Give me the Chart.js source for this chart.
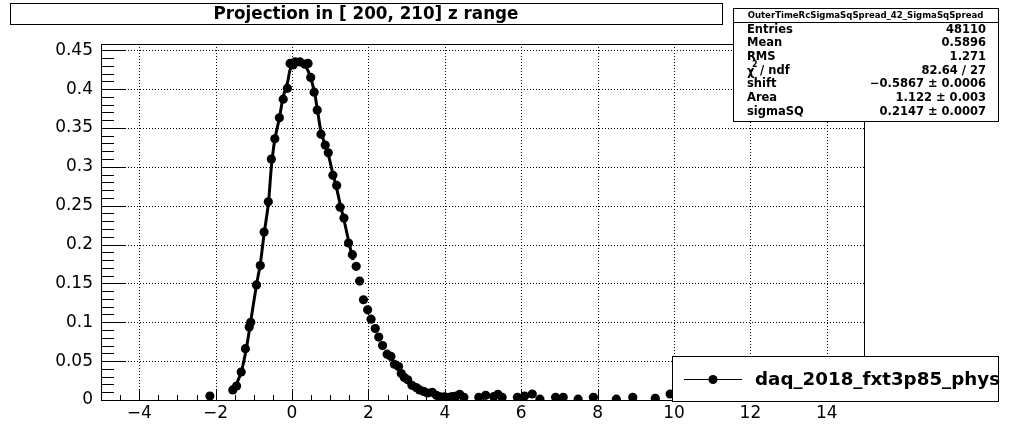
<!DOCTYPE html>
<html>
<head>
<meta charset="utf-8">
<script src="https://cdn.jsdelivr.net/npm/chart.js@4.4.1/dist/chart.umd.min.js"></script>
<style>
  html, body { margin: 0; padding: 0; background: #fff; }
  #wrap { width: 1019px; height: 446px; }
</style>
</head>
<body>
<div id="wrap"><canvas id="chart" width="1019" height="446"></canvas></div>
<script>
// valeurs (centre des bins)
const binX = [-2.15, -1.55, -1.45, -1.33, -1.22, -1.12, -1.08, -0.93, -0.83, -0.73, -0.62, -0.54, -0.45, -0.33, -0.23, -0.12,
  -0.05, 0.03, 0.08, 0.21, 0.34, 0.42, 0.49, 0.58, 0.66, 0.76, 0.87, 0.95, 1.07, 1.17, 1.26, 1.36, 1.48, 1.58, 1.68, 1.77,
  1.87, 1.98, 2.07, 2.18, 2.27, 2.37, 2.49, 2.59, 2.68, 2.79, 2.86, 2.94, 3.03, 3.14, 3.25, 3.34, 3.45, 3.55, 3.67, 3.78,
  3.88, 3.99, 4.10, 4.19, 4.30, 4.39, 4.50, 4.89, 5.07, 5.28, 5.39, 5.50, 5.90, 6.09, 6.29, 6.49, 6.90, 7.10, 7.49, 7.89,
  8.49, 8.92, 9.51, 9.90, 10.49];
const binY = [0.005, 0.013, 0.018, 0.036, 0.066, 0.094, 0.100, 0.148, 0.173, 0.216, 0.255, 0.310, 0.336, 0.363, 0.387, 0.401,
  0.433, 0.431, 0.435, 0.435, 0.432, 0.433, 0.415, 0.396, 0.373, 0.342, 0.328, 0.318, 0.289, 0.276, 0.248, 0.234, 0.202, 0.187, 0.172, 0.153,
  0.129, 0.116, 0.104, 0.092, 0.081, 0.070, 0.059, 0.056, 0.046, 0.043, 0.034, 0.029, 0.026, 0.019, 0.016, 0.013, 0.011, 0.009, 0.010, 0.006,
  0.004, 0.004, 0.0035, 0.0043, 0.005, 0.0073, 0.0035, 0.0035, 0.006, 0.0043, 0.0073, 0.0035, 0.0035, 0.005, 0.0077, 0.001, 0.0035, 0.0035, 0.001, 0.0035,
  0.001, 0.0035, 0.0022, 0.0077, 0.001];

// courbe d'ajustement, lue le long du trait
const fitX = [-1.50, -1.33, -1.20, -1.10, -0.93, -0.83, -0.73, -0.62, -0.54, -0.45, -0.33, -0.23, -0.11, -0.05, 0.05, 0.15,
  0.25, 0.35, 0.45, 0.58, 0.66, 0.76, 0.87, 0.95, 1.07, 1.17, 1.26, 1.36, 1.48, 1.60];
const fitY = [0.015, 0.036, 0.065, 0.095, 0.148, 0.175, 0.214, 0.252, 0.300, 0.335, 0.363, 0.390, 0.410, 0.425, 0.433, 0.435,
  0.434, 0.430, 0.420, 0.398, 0.375, 0.345, 0.328, 0.316, 0.291, 0.272, 0.252, 0.232, 0.205, 0.180];

const xTicks = [-4, -2, 0, 2, 4, 6, 8, 10, 12, 14];
const xTickLabels = ['\u22124', '\u22122', '0', '2', '4', '6', '8', '10', '12', '14'];
const yTicks = [0, 0.05, 0.1, 0.15, 0.2, 0.25, 0.3, 0.35, 0.4, 0.45];
const yTickLabels = ['0', '0.05', '0.1', '0.15', '0.2', '0.25', '0.3', '0.35', '0.4', '0.45'];

const titleText = 'Projection in [ 200, 210] z range';
const statsTitle = 'OuterTimeRcSigmaSqSpread_42_SigmaSqSpread';
const statsNames = ['Entries', 'Mean', 'RMS', 'chi2', 'shift', 'Area', 'sigmaSQ'];
const statsValues = ['48110', '0.5896', '1.271', '82.64 / 27', '\u22120.5867 \u00b1 0.0006', '1.122 \u00b1 0.003', '0.2147 \u00b1 0.0007'];
const legendLabel = 'daq_2018_fxt3p85_phys';

const FONT = '"DejaVu Sans", sans-serif';

// texte ajusté à une largeur donnée
function fitFont(ctx, text, weight, size, width) {
  ctx.font = weight + ' ' + size + 'px ' + FONT;
  const w = ctx.measureText(text).width;
  return size * width / w;
}

// cadre, grille pointillée, graduations et boîtes façon ROOT
const rootPlugin = {
  id: 'rootStyle',
  beforeDatasetsDraw(chart) {
    const { ctx, chartArea: a, scales } = chart;
    ctx.save();
    ctx.strokeStyle = '#000';
    ctx.lineWidth = 1;
    ctx.setLineDash([1, 2]);
    xTicks.forEach(v => {
      const x = Math.round(scales.x.getPixelForValue(v)) + 0.5;
      ctx.beginPath(); ctx.moveTo(x, a.top); ctx.lineTo(x, a.bottom); ctx.stroke();
    });
    yTicks.forEach(v => {
      if (v === 0) return;
      const y = Math.round(scales.y.getPixelForValue(v)) + 0.5;
      ctx.beginPath(); ctx.moveTo(a.left, y); ctx.lineTo(a.right, y); ctx.stroke();
    });
    ctx.restore();
  },
  afterDatasetsDraw(chart) {
    const { ctx, chartArea: a, scales } = chart;
    ctx.save();
    ctx.strokeStyle = '#000';
    ctx.lineWidth = 1;
    ctx.setLineDash([]);
    ctx.strokeRect(a.left + 0.5, a.top + 0.5, a.right - a.left - 1, a.bottom - a.top);

    // graduations y
    for (let i = 0; i <= 45; i++) {
      const v = i / 100;
      const y = Math.round(scales.y.getPixelForValue(v)) + 0.5;
      const len = i % 5 === 0 ? 25 : 13;
      ctx.beginPath(); ctx.moveTo(a.left, y); ctx.lineTo(a.left + len, y); ctx.stroke();
    }
    // graduations x
    for (let i = -10; i <= 30; i++) {
      const v = i / 2;
      const x = Math.round(scales.x.getPixelForValue(v)) + 0.5;
      const len = i % 4 === 0 ? 10 : 5;
      ctx.beginPath(); ctx.moveTo(x, a.bottom); ctx.lineTo(x, a.bottom - len); ctx.stroke();
    }

    // titre
    ctx.fillStyle = '#fff';
    ctx.fillRect(10, 3, 712, 21);
    ctx.strokeRect(10.5, 3.5, 712, 21);
    ctx.fillStyle = '#000';
    const tt = fitFont(ctx, titleText, 'bold', 15, 305);
    ctx.font = 'bold ' + tt.toFixed(2) + 'px ' + FONT;
    ctx.textAlign = 'center';
    ctx.textBaseline = 'middle';
    ctx.fillText(titleText, 366, 14.5);

    // boîte de statistiques
    const sx = 733, sy = 8, sw = 265, sh = 113;
    ctx.fillStyle = '#fff';
    ctx.fillRect(sx, sy, sw, sh);
    ctx.strokeRect(sx + 0.5, sy + 0.5, sw, sh);
    ctx.beginPath(); ctx.moveTo(sx, 22.5); ctx.lineTo(sx + sw, 22.5); ctx.stroke();
    ctx.fillStyle = '#000';
    const ts = fitFont(ctx, statsTitle, 'bold', 10, 236);
    ctx.font = 'bold ' + ts.toFixed(2) + 'px ' + FONT;
    ctx.textAlign = 'center';
    ctx.fillText(statsTitle, sx + sw / 2, 16);
    const rowFont = 'bold 11.5px ' + FONT;
    const rowY = [30, 43.5, 57.5, 71, 84, 98, 112];
    statsNames.forEach((n, i) => {
      ctx.font = rowFont;
      ctx.textAlign = 'left';
      if (n === 'chi2') {
        ctx.fillText('\u03c7', 747, rowY[i] + 1);
        ctx.font = 'bold 8px ' + FONT;
        ctx.fillText('2', 752, rowY[i] - 6);
        ctx.font = rowFont;
        ctx.fillText(' / ndf', 756, rowY[i]);
      } else {
        ctx.fillText(n, 747, rowY[i]);
      }
      ctx.textAlign = 'right';
      ctx.fillText(statsValues[i], 986, rowY[i]);
    });

    // légende
    const lx = 672, ly = 356, lw = 326, lh = 45;
    ctx.fillStyle = '#fff';
    ctx.fillRect(lx, ly, lw, lh);
    ctx.strokeRect(lx + 0.5, ly + 0.5, lw, lh);
    ctx.fillStyle = '#000';
    ctx.beginPath(); ctx.moveTo(684, 379.5); ctx.lineTo(742, 379.5); ctx.stroke();
    ctx.beginPath(); ctx.arc(713, 379.5, 4.5, 0, Math.PI * 2); ctx.fill();
    const ls = fitFont(ctx, legendLabel, 'bold', 20, 245);
    ctx.font = 'bold ' + ls.toFixed(2) + 'px ' + FONT;
    ctx.textAlign = 'left';
    ctx.fillText(legendLabel, 755, 380);
    ctx.restore();
  }
};

const ctx = document.getElementById('chart').getContext('2d');
new Chart(ctx, {
  type: 'scatter',
  data: {
    datasets: [
      {
        label: legendLabel,
        data: binX.map((x, i) => ({ x: x, y: binY[i] })),
        pointRadius: 4.6,
        pointHoverRadius: 4.6,
        pointBackgroundColor: '#000',
        pointBorderWidth: 0,
        showLine: false
      },
      {
        label: 'fit',
        data: fitX.map((x, i) => ({ x: x, y: fitY[i] })),
        showLine: true,
        borderColor: '#000',
        borderWidth: 3,
        pointRadius: 0,
        tension: 0.3
      }
    ]
  },
  options: {
    responsive: false,
    animation: false,
    devicePixelRatio: 1,
    layout: { padding: { top: 44, right: 154, left: 0, bottom: 0 } },
    plugins: { legend: { display: false }, tooltip: { enabled: false }, title: { display: false } },
    scales: {
      x: {
        type: 'linear',
        min: -5,
        max: 15,
        afterFit: s => { s.height = 46; },
        afterBuildTicks: s => { s.ticks = xTicks.map(v => ({ value: v })); },
        grid: { display: false, drawTicks: false },
        border: { display: false },
        ticks: {
          color: '#000',
          padding: 3,
          maxRotation: 0,
          autoSkip: false,
          font: { family: FONT, size: 17 },
          callback: (v) => xTickLabels[xTicks.indexOf(v)]
        }
      },
      y: {
        type: 'linear',
        min: 0,
        max: 0.458,
        afterFit: s => { s.width = 101; },
        afterBuildTicks: s => { s.ticks = yTicks.map(v => ({ value: v })); },
        grid: { display: false, drawTicks: false },
        border: { display: false },
        ticks: {
          color: '#000',
          padding: 8,
          autoSkip: false,
          font: { family: FONT, size: 17 },
          callback: (v) => yTickLabels[yTicks.indexOf(v)]
        }
      }
    }
  },
  plugins: [rootPlugin]
});
</script>
</body>
</html>
